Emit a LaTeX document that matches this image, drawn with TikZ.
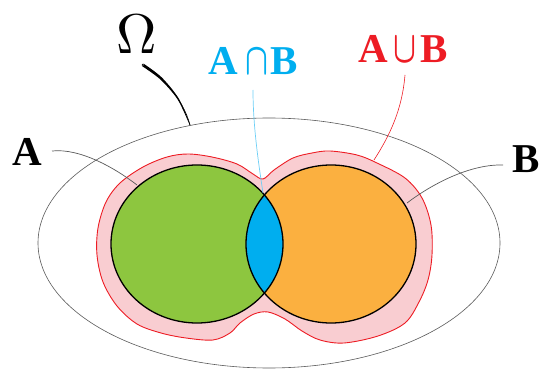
\documentclass[tikz,border=0pt]{standalone}
\usepackage{fontspec}
\usepackage{amsmath}
\usepackage{graphicx}
\newfontfamily\libb{Liberation Serif}[]
\definecolor{vgreen}{RGB}{141,198,63}
\definecolor{vorange}{RGB}{251,176,64}
\definecolor{vcyan}{RGB}{0,174,239}
\definecolor{vcyanline}{RGB}{109,207,246}
\definecolor{vred}{RGB}{237,28,36}
\definecolor{vpink}{RGB}{249,205,209}
\definecolor{vgray}{RGB}{90,90,90}
\tikzset{
  setline/.style={draw=black,line width=1.3pt},
  leader/.style={draw=vgray,line width=0.7pt},
  biglabel/.style={inner sep=0pt,anchor=base west,font=\libb\bfseries\fontsize{41}{41}\selectfont},
}
\newcommand{\bigcapsym}{\scalebox{3.0}[4.5]{\fontsize{10}{12}\selectfont$\boldsymbol{\cap}$}}
\newcommand{\bigcupsym}{\scalebox{3.0}[4.5]{\fontsize{10}{12}\selectfont$\boldsymbol{\cup}$}}
\begin{document}
\begin{tikzpicture}[x=1pt,y=-1pt]
\useasboundingbox (0,0) rectangle (539,369);
% universe
\draw[line width=0.6pt,draw=vgray] (269,243) ellipse [x radius=231,y radius=125];
% union blob
\draw[fill=vpink,draw=vred,line width=0.9pt] plot[smooth cycle,tension=0.55] coordinates {
(263,179) (274,170) (293,158) (312,153) (330,151) (357,155) (377,163) (405,178) (422,198) (431,225) (432,255) (428,280) (419,302) (405,323) (378,336) (344,343) (320,340) (302,331) (285,319) (268,312) (254,314) (240,323) (230,333) (213,340) (186,338) (161,333) (137,324) (117,306) (103,282) (97,255) (98,228) (106,202) (120,183) (143,167) (167,157) (188,154) (212,157) (237,164) (253,174)};
% sets
\fill[vgreen] (197,244) ellipse [x radius=86,y radius=79];
\fill[vorange] (331,244) ellipse [x radius=85,y radius=79];
\begin{scope}
\clip (197,244) ellipse [x radius=86,y radius=79];
\fill[vcyan] (331,244) ellipse [x radius=85,y radius=79];
\end{scope}
\draw[setline] (197,244) ellipse [x radius=86,y radius=79];
\draw[setline] (331,244) ellipse [x radius=85,y radius=79];
% labels
\node (om) at (136.5,34) {\scalebox{5.6}{$\Omega$}};
\node[biglabel,text=vcyan] (AnB) at (208,75) {A\hspace{8pt}\bigcapsym\hspace{2pt}B};
\node[biglabel,text=vred] (AuB) at (358,63) {A\hspace{6pt}\bigcupsym\hspace{4pt}B};
\node[biglabel] (Alab) at (12,165) {A};
\node[biglabel] (Blab) at (512,172) {B};
% connector end points
\coordinate (omS) at (143,65);
\coordinate (omE) at (190,125);
\coordinate (anS) at (253,90);
\coordinate (anE) at (263,193);
\coordinate (auS) at (405,75);
\coordinate (auE) at (374,160);
\coordinate (aS) at (52,151);
\coordinate (aE) at (137,185);
\coordinate (bS) at (503,165);
\coordinate (bE) at (407,203);
% connectors
\fill[black] (omS) circle[radius=1.3]
  plot[smooth] coordinates {(142.2,66.2) (160.3,79.4) (177.6,99.4) (189.7,125.1)}
  -- plot[smooth] coordinates {(190.3,124.9) (178.8,98.6) (161.7,77.4) (143.8,63.8)} -- cycle;
\draw[line width=0.6pt] (omS) .. controls (160,74) and (183,98) .. (omE);
\draw[draw=vcyanline,line width=0.7pt] (anS) .. controls (253,125) and (258,160) .. (anE);
\draw[draw=vred,line width=0.6pt] (auS) .. controls (402,110) and (390,135) .. (auE);
\draw[leader] (aS) .. controls (80,148) and (115,168) .. (aE);
\draw[leader] (bS) .. controls (470,164) and (432,184) .. (bE);
\end{tikzpicture}
\end{document}
